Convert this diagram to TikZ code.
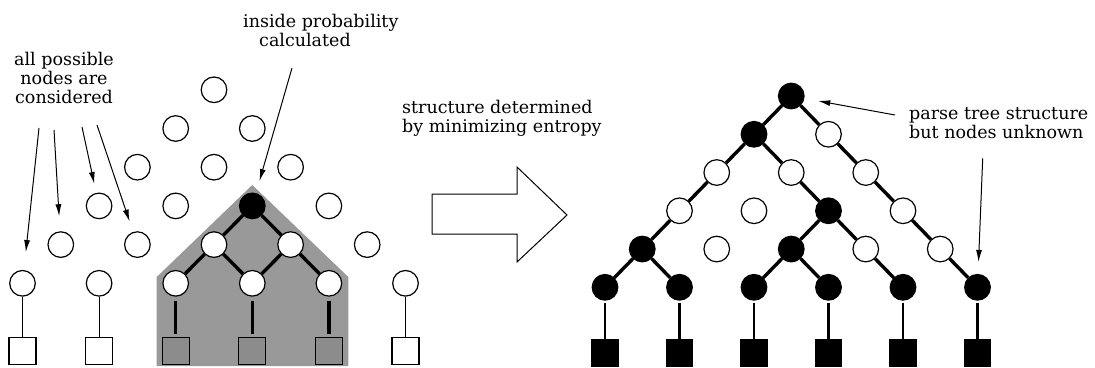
\documentclass[tikz,border=0pt]{standalone}
\usepackage{fontspec}
\setmainfont{DejaVu Serif}
\usetikzlibrary{arrows.meta}

\begin{document}
\begin{tikzpicture}[x=1pt,y=-1pt,
  cell/.style={circle,draw,line width=1.2pt,fill=white,minimum size=25.6pt,inner sep=0pt},
  filled/.style={cell,fill=black},
  leaf/.style={rectangle,draw,line width=1.1pt,fill=white,minimum size=27pt,inner sep=0pt},
  leafgray/.style={leaf,fill=black!45},
  leafdark/.style={leaf,fill=black,minimum size=26pt},
  wire/.style={line width=1pt},
  heavy/.style={line width=3.4pt},
  stem/.style={line width=2.7pt},
  note/.style={font=\fontsize{17.5}{19}\selectfont,inner sep=0pt},
  pointer/.style={line width=1pt,-{Latex[length=12pt,width=6pt]}},
]
\useasboundingbox (0,0) rectangle (1095,367);

% shaded region of the chart whose inside probability is computed
\fill[black!40] (156.7,366) -- (156.7,277) -- (252.3,185) -- (348.3,277) -- (348.3,366) -- cycle;

% ---------- left: chart of all possible nodes ----------
\foreach \k in {0,...,5}{
  \pgfmathtruncatemacro\n{5-\k}
  \foreach \i in {0,...,\n}{
    \def\kind{cell}
    \ifnum\k=2 \ifnum\i=2 \def\kind{filled}\fi\fi
    \node[\kind] (L-\k-\i) at ({22.5+38.3*\k+76.6*\i},{283.3-38.7*\k}) {};
  }
}
\foreach \i/\s in {0/leaf,1/leaf,2/leafgray,3/leafgray,4/leafgray,5/leaf}{
  \node[\s] (Lsq-\i) at ({22.5+76.6*\i},351) {};
}
\foreach \i in {0,1,5}{
  \draw[wire] (L-0-\i) -- (Lsq-\i);
}
\foreach \i in {2,3,4}{
  \draw[heavy,shorten <=4pt,shorten >=3pt] (L-0-\i) -- (Lsq-\i);
}
\foreach \a/\b in {2-2/1-2,2-2/1-3,1-2/0-2,1-2/0-3,1-3/0-3,1-3/0-4}{
  \draw[heavy] (L-\a) -- (L-\b);
}

% annotations on the left (base anchor = baseline of the last line)
\node[note,anchor=base,align=center] (allnote) at (64,103) {all possible\\nodes are\\considered};
\coordinate (t1) at (39,128);
\coordinate (t2) at (54,130);
\coordinate (t3) at (82,127);
\coordinate (t4) at (97,125);
\draw[pointer,shorten >=18pt] (t1) -- (L-0-0);
\draw[pointer,shorten >=15pt] (t2) -- (L-1-0);
\draw[pointer,shorten >=9pt] (t3) -- (L-2-0);
\draw[pointer,shorten >=11pt] (t4) -- (L-1-1);

\node[note,anchor=base west,align=left] (insnote) at (243,46) {inside probability\\\hspace*{16pt}calculated};
\coordinate (t5) at (292,68);
\draw[pointer,shorten >=12.5pt] (t5) -- (L-2-2);

% ---------- middle: transition arrow ----------
\draw[wire,fill=white] (432,194) -- (517,194) -- (517,167) -- (567,215)
  -- (517,262) -- (517,234) -- (432,234) -- cycle;
\node[note,anchor=base west,align=left] (strnote) at (402,132) {structure determined\\by minimizing entropy};

% ---------- right: resulting parse tree ----------
\foreach \k/\i/\s in {5/0/filled,4/0/filled,4/1/cell,3/0/cell,3/1/cell,3/2/cell,
  2/0/cell,2/1/cell,2/2/filled,2/3/cell,1/0/filled,1/1/cell,1/2/filled,1/3/cell,1/4/cell,
  0/0/filled,0/1/filled,0/2/filled,0/3/filled,0/4/filled,0/5/filled}{
  \node[\s] (R-\k-\i) at ({605+37.25*\k+74.5*\i},{287.3-38.26*\k}) {};
}
\foreach \i in {0,...,5}{
  \node[leafdark] (Rsq-\i) at ({605+74.5*\i},353) {};
  \draw[stem,shorten <=2pt] (R-0-\i) -- (Rsq-\i);
}
\foreach \a/\b in {5-0/4-0,5-0/4-1,4-0/3-0,4-0/3-1,4-1/3-2,3-0/2-0,3-1/2-2,3-2/2-3,
  2-0/1-0,2-2/1-2,2-2/1-3,2-3/1-4,1-0/0-0,1-0/0-1,1-2/0-2,1-2/0-3,1-3/0-4,1-4/0-5}{
  \draw[heavy] (R-\a) -- (R-\b);
}

% annotations on the right
\node[note,anchor=base west,align=left] (parnote) at (909,138) {parse tree structure\\but nodes unknown};
\coordinate (t6) at (895,115);
\coordinate (t7) at (982.7,158.3);
\draw[pointer,shorten >=14pt] (t6) -- (R-5-0);
\draw[pointer,shorten >=12pt] (t7) -- (R-0-5);
\end{tikzpicture}
\end{document}
